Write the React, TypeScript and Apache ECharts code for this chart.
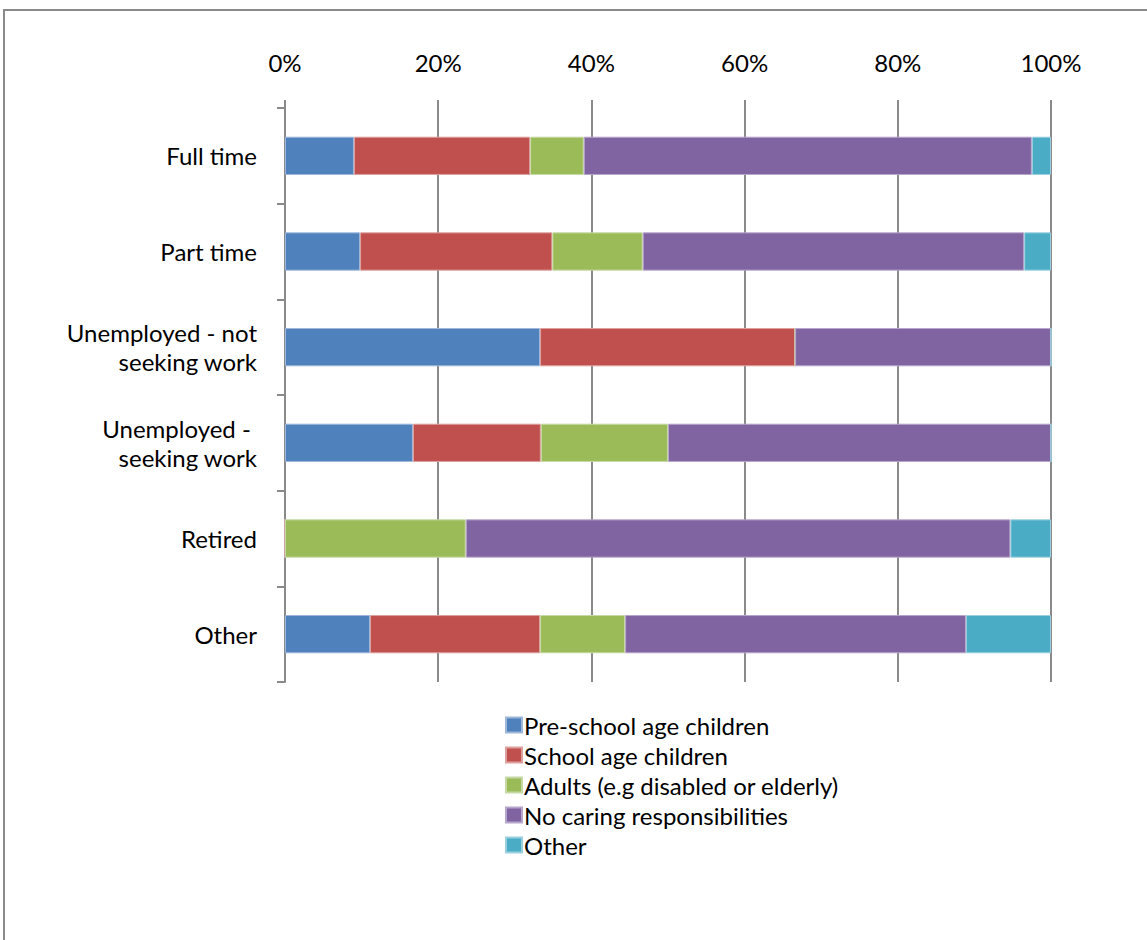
import React, { useEffect, useRef } from "react";
import * as echarts from "echarts";

const categories = [
  "Full time",
  "Part time",
  "Unemployed - not\nseeking work",
  "Unemployed - \nseeking work",
  "Retired",
  "Other",
];
const seriesNames = [
  "Pre-school age children",
  "School age children",
  "Adults (e.g disabled or elderly)",
  "No caring responsibilities",
  "Other",
];
const preSchool = [9.0, 9.8, 33.3, 16.7, 0, 11.1];
const schoolAge = [23.0, 25.1, 33.3, 16.7, 0, 22.2];
const adults = [7.0, 11.8, 0, 16.6, 23.6, 11.1];
const noCaring = [58.5, 49.8, 33.4, 50.0, 71.1, 44.5];
const other = [2.5, 3.5, 0, 0, 5.3, 11.1];
const colors = ["#4F81BD", "#C0504D", "#9BBB59", "#8064A2", "#4BACC6"];
const borders = ["#9DB6D9", "#DDA09E", "#C6D9A5", "#B6A6CB", "#9ACFDF"];

const FONT = "Lato";
const FS = 24;

export default function App() {
  const ref = useRef<HTMLDivElement>(null);
  useEffect(() => {
    const chart = echarts.init(ref.current!, undefined, { renderer: "svg" });
    const data = [preSchool, schoolAge, adults, noCaring, other];
    chart.setOption({
      animation: false,
      backgroundColor: "#ffffff",
      color: colors,
      textStyle: { fontFamily: FONT },
      grid: { left: 285, right: 96, top: 108, bottom: 258, containLabel: false },
      legend: {
        orient: "vertical",
        left: 505,
        top: 710,
        padding: 0,
        itemWidth: 16,
        itemHeight: 15,
        itemGap: 0,
        icon: "rect",
        textStyle: { fontFamily: FONT, fontSize: FS, color: "#000", padding: [0, 0, 0, -3], lineHeight: 30 },
        data: seriesNames,
      },
      xAxis: {
        type: "value",
        position: "top",
        min: 0,
        max: 100,
        interval: 20,
        axisLine: { show: false },
        axisTick: { show: true, length: 8, lineStyle: { color: "#8a8a8a", width: 2 } },
        splitLine: { show: true, lineStyle: { color: "#8a8a8a", width: 2 } },
        axisLabel: {
          formatter: "{value}%",
          fontFamily: FONT,
          fontSize: FS,
          color: "#000",
          margin: 34,
        },
      },
      yAxis: {
        type: "category",
        inverse: true,
        data: categories,
        axisLine: { show: true, lineStyle: { color: "#8a8a8a", width: 2 } },
        axisTick: { show: true, length: 8, lineStyle: { color: "#8a8a8a", width: 2 } },
        axisLabel: {
          fontFamily: FONT,
          fontSize: FS,
          color: "#000",
          margin: 28,
          align: "right",
          lineHeight: 29,
        },
      },
      series: seriesNames.map((name, i) => ({
        name,
        type: "bar",
        stack: "total",
        barWidth: "40%",
        data: data[i],
        itemStyle: { color: colors[i], borderColor: borders[i], borderWidth: 1 },
      })),
      graphic: [
        {
          type: "rect",
          shape: { x: 4, y: 10, width: 1300, height: 1100 },
          style: { fill: "none", stroke: "#8a8a8a", lineWidth: 2 },
          silent: true,
        },
      ],
    });
    return () => chart.dispose();
  }, []);
  return (
    <div
      ref={ref}
      style={{ position: "absolute", left: 0, top: 0, width: 1147, height: 940 }}
    />
  );
}
